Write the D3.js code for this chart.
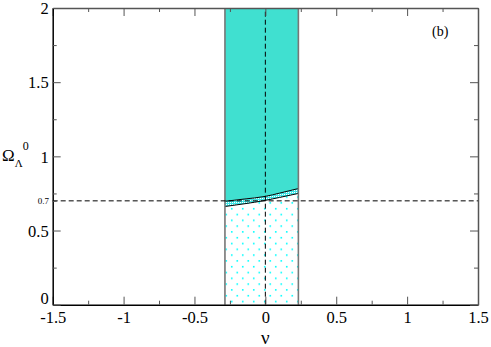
<!DOCTYPE html>
<html><head><meta charset="utf-8">
<script src="https://cdn.jsdelivr.net/npm/d3@7"></script>
<style>body{margin:0;background:#fff}</style>
</head><body><svg id="c" width="491" height="347"></svg>
<script>
const xMajor = [-1.5,-1,-0.5,0,0.5,1,1.5];
const xMinor = [-1.25,-0.75,-0.25,0.25,0.75,1.25];
const yMajor = [0,0.5,1,1.5,2];
const yMinor = [0.25,0.75,1.25,1.75];
const bandNu = [-0.285, 0.233];
const curveNu = [-0.285,-0.15,0,0.1,0.233];
const upperOmega = [0.697,0.712,0.730,0.752,0.783];
const lowerOmega = [0.662,0.680,0.703,0.723,0.750];
const refOmega = 0.7;
const refNu = 0;

const svg = d3.select("#c");
const x = d3.scaleLinear().domain([-1.5,1.5]).range([52.7,478]);
const y = d3.scaleLinear().domain([0,2]).range([304.7,8]);
const fmt = d => d3.format("~g")(d).replace("−","-");
const defs = svg.append("defs");
const p1 = defs.append("pattern").attr("id","sparse").attr("patternUnits","userSpaceOnUse")
  .attr("width",11).attr("height",11.6).attr("x",x(bandNu[0])+6).attr("y",y(0)-4);
p1.append("rect").attr("x",0).attr("y",0).attr("width",1.6).attr("height",1.6).attr("fill","#00ffff");
p1.append("rect").attr("x",5.5).attr("y",5.8).attr("width",1.6).attr("height",1.6).attr("fill","#00ffff");
const p2 = defs.append("pattern").attr("id","dense").attr("patternUnits","userSpaceOnUse")
  .attr("width",2).attr("height",2);
p2.append("rect").attr("width",2).attr("height",2).attr("fill","#40e8e8");
p2.append("rect").attr("width",1).attr("height",1).attr("fill","#ffffff");

const pts = (arr)=>curveNu.map((n,i)=>[x(n),y(arr[i])]);
const line = d3.line().curve(d3.curveMonotoneX);
const up = pts(upperOmega), lo = pts(lowerOmega);
svg.append("path").attr("fill","#40e0d0")
  .attr("d", "M"+x(bandNu[0])+","+y(2)+"L"+x(bandNu[1])+","+y(2)+"L"+up.slice().reverse().map(p=>p.join(",")).join("L")+"Z");
const betweenArea = d3.area().curve(d3.curveMonotoneX).x(d=>d[0]).y0((d,i)=>lo[i][1]).y1(d=>d[1]);
svg.append("path").attr("fill","url(#dense)").attr("d", betweenArea(up));
const belowArea = d3.area().curve(d3.curveMonotoneX).x(d=>d[0]).y0(y(0)).y1(d=>d[1]);
svg.append("path").attr("fill","url(#sparse)").attr("d", belowArea(lo));
svg.append("path").attr("fill","none").attr("stroke","#000").attr("stroke-width",1).attr("d",line(up));
svg.append("path").attr("fill","none").attr("stroke","#000").attr("stroke-width",1).attr("d",line(lo));
bandNu.forEach(n=>svg.append("line").attr("x1",x(n)).attr("x2",x(n)).attr("y1",y(0)).attr("y2",y(2))
  .attr("stroke","#777").attr("stroke-width",1.6));
svg.append("line").attr("x1",x(refNu)).attr("x2",x(refNu)).attr("y1",y(0)).attr("y2",y(2))
  .attr("stroke","#000").attr("stroke-width",1).attr("stroke-dasharray","5,3");
svg.append("line").attr("x1",x(-1.5)).attr("x2",x(1.5)).attr("y1",y(refOmega)).attr("y2",y(refOmega))
  .attr("stroke","#000").attr("stroke-width",1).attr("stroke-dasharray","5,3");

const axB = d3.axisBottom(x).tickValues(xMajor).tickSizeInner(-8).tickSizeOuter(0).tickPadding(7).tickFormat(fmt);
const gB = svg.append("g").attr("transform",`translate(0,${y(0)})`).call(axB);
svg.append("g").attr("transform",`translate(0,${y(0)})`).call(d3.axisBottom(x).tickValues(xMinor).tickSizeInner(-4).tickSizeOuter(0).tickFormat("")).select(".domain").remove();
svg.append("g").attr("transform",`translate(0,${y(2)})`).call(d3.axisTop(x).tickValues(xMajor).tickSizeInner(-8).tickSizeOuter(0).tickFormat(""));
svg.append("g").attr("transform",`translate(0,${y(2)})`).call(d3.axisTop(x).tickValues(xMinor).tickSizeInner(-4).tickSizeOuter(0).tickFormat("")).select(".domain").remove();
const axL = d3.axisLeft(y).tickValues(yMajor).tickSizeInner(-8).tickSizeOuter(0).tickPadding(4).tickFormat(fmt);
const gL = svg.append("g").attr("transform",`translate(${x(-1.5)},0)`).call(axL);
svg.append("g").attr("transform",`translate(${x(-1.5)},0)`).call(d3.axisLeft(y).tickValues(yMinor.concat([refOmega])).tickSizeInner(-4).tickSizeOuter(0).tickFormat("")).select(".domain").remove();
svg.append("g").attr("transform",`translate(${x(1.5)},0)`).call(d3.axisRight(y).tickValues(yMajor).tickSizeInner(-8).tickSizeOuter(0).tickFormat(""));
svg.append("g").attr("transform",`translate(${x(1.5)},0)`).call(d3.axisRight(y).tickValues(yMinor).tickSizeInner(-4).tickSizeOuter(0).tickFormat("")).select(".domain").remove();
svg.selectAll(".domain").attr("stroke","#555").attr("stroke-width",1.5);
gB.select(".domain").attr("stroke","#000");
gL.select(".domain").attr("stroke","#000");
svg.selectAll(".tick line").attr("stroke","#555");
svg.selectAll(".tick text").style("font-size","16.5px").attr("fill","#000");
gL.selectAll(".tick text").attr("dy",d=>d===0?"-0.05em":"0.35em");
gB.selectAll(".tick text").attr("dy","0.71em");
svg.append("text").attr("x",49).attr("y",y(refOmega)+3).attr("text-anchor","end")
  .style("font-size","9px").text("0.7");
svg.append("text").attr("x",x(0)).attr("y",344).attr("text-anchor","middle").style("font-size","19px").text("ν");
const yl = svg.append("text").attr("x",2).attr("y",161).style("font-size","17px");
yl.append("tspan").text("Ω");
yl.append("tspan").style("font-size","11px").attr("dy",6).text("Λ");
yl.append("tspan").style("font-size","12px").attr("dy",-17).text("0");
svg.append("text").attr("x",432).attr("y",36).style("font-size","14px").text("(b)");
svg.selectAll("text").style("font-family","\"Liberation Serif\"");
</script></body></html>
